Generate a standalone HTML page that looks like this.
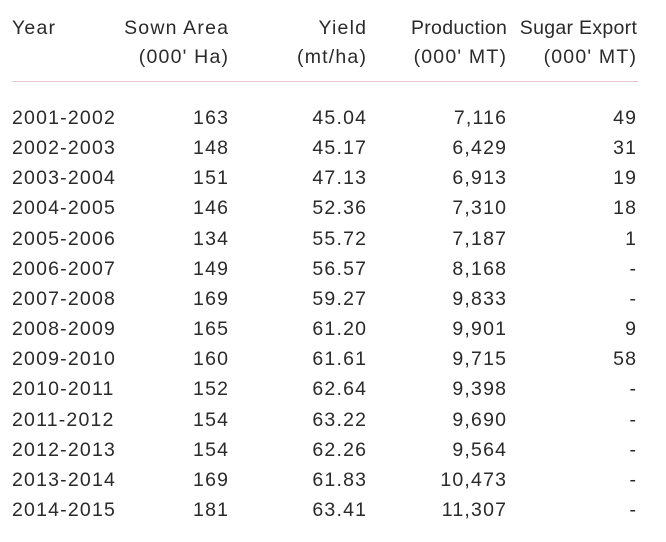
<!DOCTYPE html>
<html><head><meta charset="utf-8"><style>
body{margin:0;background:#fff;width:666px;height:542px;overflow:hidden;font-family:"Liberation Sans",sans-serif;color:#2a2a2a;}
.t{position:absolute;font-size:19.5px;line-height:20px;white-space:nowrap;letter-spacing:1.2px}
.r{text-align:right;margin-right:-1.2px}
</style></head><body>
<div class="t" style="left:12px;top:18px">Year</div>
<div class="t r" style="right:438px;top:18px">Sown Area</div>
<div class="t r" style="right:438px;top:47px">(000' Ha)</div>
<div class="t r" style="right:300px;top:18px">Yield</div>
<div class="t r" style="right:300px;top:47px">(mt/ha)</div>
<div class="t r" style="right:160px;top:18px;letter-spacing:0.3px">Production</div>
<div class="t r" style="right:160px;top:47px">(000' MT)</div>
<div class="t r" style="right:30px;top:18px;letter-spacing:0.3px">Sugar Export</div>
<div class="t r" style="right:30px;top:47px">(000' MT)</div>
<div style="position:absolute;left:12px;width:626px;top:81px;height:1px;background:#e8c8d0"></div>
<div id="rows"></div>
<script>
const years=["2001-2002","2002-2003","2003-2004","2004-2005","2005-2006","2006-2007","2007-2008","2008-2009","2009-2010","2010-2011","2011-2012","2012-2013","2013-2014","2014-2015"];
const area=["163","148","151","146","134","149","169","165","160","152","154","154","169","181"];
const yieldV=["45.04","45.17","47.13","52.36","55.72","56.57","59.27","61.20","61.61","62.64","63.22","62.26","61.83","63.41"];
const prod=["7,116","6,429","6,913","7,310","7,187","8,168","9,833","9,901","9,715","9,398","9,690","9,564","10,473","11,307"];
const exp=["49","31","19","18","1","-","-","9","58","-","-","-","-","-"];
const c=document.getElementById('rows');
years.forEach((y,i)=>{
  const top=108+i*30.15;
  const cells=[[y,'left:12px','year-cell'],[area[i],'right:438px','area-cell'],[yieldV[i],'right:300px','yield-cell'],[prod[i],'right:160px','production-cell'],[exp[i],'right:30px','export-cell']];
  cells.forEach(([txt,pos,nm],j)=>{
    const d=document.createElement('div');
    d.className='t'+(j?' r':'');
    d.style.cssText=pos+';top:'+top+'px';
    d.textContent=txt;
    
    
    c.appendChild(d);
  });
});
</script>
</body></html>
